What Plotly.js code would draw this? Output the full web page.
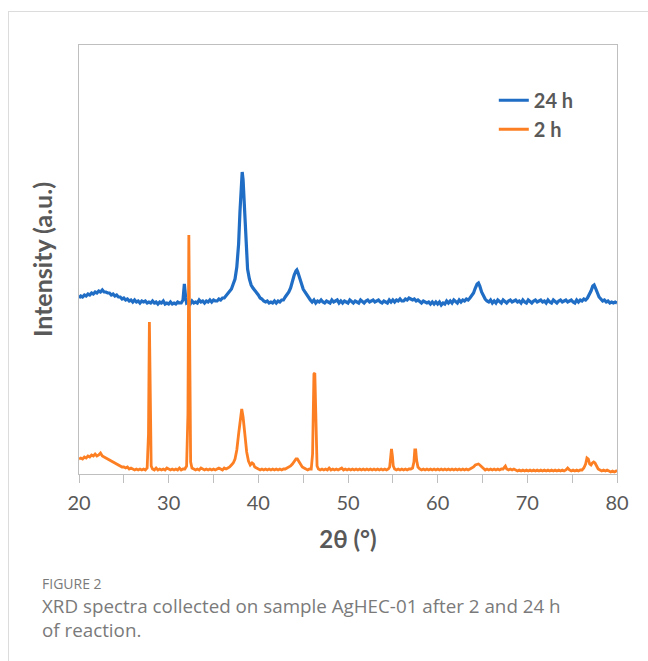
<!DOCTYPE html>
<html>
<head>
<meta charset="utf-8">
<script src="https://cdn.plot.ly/plotly-3.0.1.min.js"></script>
<style>
  html, body { margin: 0; padding: 0; background: #fff; }
  #frame { position: absolute; left: 8px; top: 11px; width: 640px; height: 650px;
           border-top: 1px solid #dcdcdc; border-left: 1px solid #dcdcdc; }
  #chart { position: absolute; left: 0; top: 0; width: 648px; height: 661px; }
</style>
</head>
<body>
<div id="frame"></div>
<div id="chart"></div>
<script>
// 24 h series (2θ in degrees, intensity in arbitrary units)
const x24 = [20.0,20.2,20.4,20.6,20.8,21.0,21.2,21.4,21.6,21.8,22.0,22.2,22.4,22.6,22.8,23.0,23.2,23.4,23.6,23.8,24.0,24.2,24.4,24.6,24.8,25.0,25.2,25.4,25.6,25.8,26.0,26.2,26.4,26.6,26.8,27.0,27.2,27.4,27.6,27.8,28.0,28.2,28.4,28.6,28.8,29.0,29.2,29.4,29.6,29.8,30.0,30.2,30.4,30.6,30.8,31.0,31.2,31.4,31.6,31.75,31.9,32.0,32.2,32.4,32.6,32.8,33.0,33.2,33.4,33.6,33.8,34.0,34.2,34.4,34.6,34.8,35.0,35.2,35.4,35.6,35.8,36.0,36.2,36.4,36.6,36.8,37.0,37.2,37.4,37.6,37.8,37.95,38.1,38.2,38.3,38.45,38.6,38.8,39.0,39.2,39.4,39.6,39.8,40.0,40.2,40.4,40.6,40.8,41.0,41.2,41.4,41.6,41.8,42.0,42.2,42.4,42.6,42.8,43.0,43.2,43.4,43.6,43.8,44.0,44.2,44.3,44.4,44.6,44.8,45.0,45.2,45.4,45.6,45.8,46.0,46.2,46.4,46.6,46.8,47.0,47.2,47.4,47.6,47.8,48.0,48.2,48.4,48.6,48.8,49.0,49.2,49.4,49.6,49.8,50.0,50.2,50.4,50.6,50.8,51.0,51.2,51.4,51.6,51.8,52.0,52.2,52.4,52.6,52.8,53.0,53.2,53.4,53.6,53.8,54.0,54.2,54.4,54.6,54.8,55.0,55.2,55.4,55.6,55.8,56.0,56.2,56.4,56.6,56.8,57.0,57.2,57.4,57.6,57.8,58.0,58.2,58.4,58.6,58.8,59.0,59.2,59.4,59.6,59.8,60.0,60.2,60.4,60.6,60.8,61.0,61.2,61.4,61.6,61.8,62.0,62.2,62.4,62.6,62.8,63.0,63.2,63.4,63.6,63.8,64.0,64.2,64.4,64.55,64.7,64.9,65.1,65.3,65.5,65.7,65.9,66.1,66.3,66.5,66.7,66.9,67.1,67.3,67.5,67.7,67.9,68.1,68.3,68.5,68.7,68.9,69.1,69.3,69.5,69.7,69.9,70.1,70.3,70.5,70.7,70.9,71.1,71.3,71.5,71.7,71.9,72.1,72.3,72.5,72.7,72.9,73.1,73.3,73.5,73.7,73.9,74.1,74.3,74.5,74.7,74.9,75.1,75.3,75.5,75.7,75.9,76.1,76.3,76.5,76.7,76.9,77.1,77.3,77.45,77.6,77.8,78.0,78.2,78.4,78.6,78.8,79.0,79.2,79.4,79.6,79.8,80.0];
const y24 = [
  176,178,177,179,178,180,179,181,180,182,
  181,183,182,184,182,182,181,181,179,180,
  178,179,177,177,175,176,174,175,173,174,
  172,174,172,173,171,173,172,173,171,172,
  171,173,171,172,170,172,171,173,170,171,
  170,172,170,171,170,172,171,171,174,
  190,176,
  171,172,170,173,171,172,171,174,172,173,
  171,173,172,174,172,174,173,173,175,174,
  176,176,178,180,182,185,190,195,207,230,
  262,292,302,294,262,230,
  205,195,189,186,184,181,179,176,175,173,
  172,173,171,172,171,173,171,173,172,174,
  174,177,179,182,186,193,199,203,
  204,202,
  196,189,185,182,179,177,174,172,174,171,
  173,172,174,172,171,173,172,171,174,172,
  173,174,171,173,171,173,172,171,174,172,
  171,173,172,171,174,172,171,173,174,172,
  173,174,172,173,174,172,171,173,172,171,
  174,172,174,172,174,173,175,173,173,175,
  174,176,175,174,175,173,174,172,171,173,
  172,171,172,170,172,170,172,170,172,169,
  171,170,173,171,173,171,174,172,171,174,
  172,174,173,175,174,176,178,181,186,190,
  191,188,
  182,178,175,173,172,174,171,173,171,174,
  172,171,174,172,171,173,174,172,173,174,
  172,173,171,174,172,171,174,172,171,173,
  174,172,173,174,172,173,171,174,172,171,
  174,172,171,173,174,172,173,174,172,173,
  174,172,171,174,172,174,173,175,174,176,
  179,183,188,
  189,
  186,181,177,175,173,174,172,173,171,172,171,172,171];

// 2 h series
const x2 = [20.0,20.2,20.4,20.6,20.8,21.0,21.2,21.4,21.6,21.8,22.0,22.2,22.4,22.6,22.8,23.0,23.2,23.4,23.6,23.8,24.0,24.2,24.4,24.6,24.8,25.0,25.2,25.4,25.6,25.8,26.0,26.2,26.4,26.6,26.8,27.0,27.2,27.4,27.6,27.75,27.85,27.95,28.05,28.2,28.4,28.6,28.8,29.0,29.2,29.4,29.6,29.8,30.0,30.2,30.4,30.6,30.8,31.0,31.2,31.4,31.6,31.8,32.0,32.15,32.25,32.35,32.45,32.6,32.8,33.0,33.2,33.4,33.6,33.8,34.0,34.2,34.4,34.6,34.8,35.0,35.2,35.4,35.6,35.8,36.0,36.2,36.4,36.6,36.8,37.0,37.2,37.4,37.6,37.8,38.0,38.15,38.3,38.5,38.7,38.9,39.1,39.3,39.45,39.6,39.8,40.0,40.2,40.4,40.6,40.8,41.0,41.2,41.4,41.6,41.8,42.0,42.2,42.4,42.6,42.8,43.0,43.2,43.4,43.6,43.8,44.0,44.2,44.35,44.5,44.7,44.9,45.1,45.3,45.5,45.7,45.9,46.05,46.2,46.3,46.4,46.55,46.7,46.9,47.1,47.3,47.5,47.7,47.9,48.1,48.3,48.5,48.7,48.9,49.1,49.3,49.5,49.7,49.9,50.1,50.3,50.5,50.7,50.9,51.1,51.3,51.5,51.7,51.9,52.1,52.3,52.5,52.7,52.9,53.1,53.3,53.5,53.7,53.9,54.1,54.3,54.5,54.65,54.75,54.85,54.95,55.05,55.2,55.4,55.6,55.8,56.0,56.2,56.4,56.6,56.8,57.0,57.2,57.35,57.45,57.55,57.65,57.8,58.0,58.2,58.4,58.6,58.8,59.0,59.2,59.4,59.6,59.8,60.0,60.2,60.4,60.6,60.8,61.0,61.2,61.4,61.6,61.8,62.0,62.2,62.4,62.6,62.8,63.0,63.2,63.4,63.6,63.8,64.0,64.2,64.4,64.55,64.7,64.9,65.1,65.3,65.5,65.7,65.9,66.1,66.3,66.5,66.7,66.9,67.1,67.3,67.45,67.55,67.7,67.9,68.1,68.3,68.5,68.7,68.9,69.1,69.3,69.5,69.7,69.9,70.1,70.3,70.5,70.7,70.9,71.1,71.3,71.5,71.7,71.9,72.1,72.3,72.5,72.7,72.9,73.1,73.3,73.5,73.7,73.9,74.1,74.3,74.5,74.7,74.9,75.1,75.3,75.5,75.7,75.9,76.1,76.3,76.5,76.65,76.8,76.95,77.1,77.25,77.4,77.55,77.7,77.9,78.1,78.3,78.5,78.7,78.9,79.1,79.3,79.5,79.7,79.9,80.0];
const y2 = [15,16,15,17,16,18,17,19,18,20,18,19,21,18,17,16,15,14,13,12,11,10,9,8,7,7,6,7,5,6,5,4,5,4,5,4,5,4,6,40,152,60,8,5,4,6,4,5,4,5,4,6,5,4,5,4,5,4,6,4,5,5,8,60,239,90,12,6,5,4,5,4,6,5,4,5,4,5,4,5,4,5,6,5,4,6,5,6,7,9,11,15,24,40,58,65,57,38,22,13,9,11,10,7,6,5,4,5,4,5,4,5,4,5,4,5,4,5,4,5,5,6,7,8,10,13,15,15,13,10,7,6,5,4,5,5,20,100,101,45,8,5,4,5,4,5,4,6,4,5,4,5,4,5,6,4,5,4,5,4,5,4,5,4,5,4,5,4,5,4,5,4,5,4,5,4,5,4,5,4,5,7,15,25,18,8,5,4,5,4,5,4,5,4,5,5,6,12,24,24,14,7,5,4,5,4,5,4,5,4,5,4,5,4,5,4,5,4,5,4,5,4,5,4,5,4,5,4,5,4,5,6,7,9,10,10,9,7,5,4,5,4,5,4,5,4,5,4,5,5,7,8,5,4,5,4,5,4,3,4,3,4,3,4,3,4,3,4,3,4,3,4,3,4,3,4,3,4,3,4,3,4,3,4,3,4,6,4,3,4,3,4,3,4,4,6,10,16,15,10,9,11,12,11,8,5,4,3,4,3,4,3,2,3,2,3,2];

const seriesNames = ["24 h", "2 h"];
const seriesColors = ["#1f6dc4", "#fd7f23"];
const xTicks = [20, 30, 40, 50, 60, 70, 80];

const textGray = "#595959";
const axisGray = "#bfbfbf";
const fontMain = "Lato, 'Open Sans', sans-serif";
const fontCaption = "'Open Sans', sans-serif";

const traces = [
  {x: x24, y: y24, name: seriesNames[0], type: "scatter", mode: "lines",
   line: {color: seriesColors[0], width: 3.2}},
  {x: x2, y: y2, name: seriesNames[1], type: "scatter", mode: "lines",
   line: {color: seriesColors[1], width: 2.8}}
];

const layout = {
  width: 648, height: 661,
  margin: {l: 79, r: 31, t: 45, b: 187},
  paper_bgcolor: "rgba(0,0,0,0)",
  plot_bgcolor: "#ffffff",
  showlegend: true,
  legend: {x: 0.771, y: 0.9167, xanchor: "left", yanchor: "top",
           bgcolor: "rgba(0,0,0,0)", tracegroupgap: 0,
           font: {family: fontMain, size: 20, color: textGray, weight: "bold"}},
  xaxis: {range: [20, 80], tickvals: xTicks, ticktext: xTicks.map(String),
          showgrid: false, zeroline: false,
          showline: true, linecolor: axisGray, linewidth: 1, mirror: true,
          ticks: "outside", ticklen: 8, tickcolor: axisGray, ticklabelstandoff: 3,
          minor: {dtick: 5, ticks: "outside", ticklen: 8, tickcolor: axisGray, showgrid: false},
          tickfont: {family: fontMain, size: 20, color: textGray},
          title: {text: "2θ (°)", standoff: 18,
                  font: {family: fontMain, size: 24, color: textGray, weight: "bold"}}},
  yaxis: {range: [0, 429], showticklabels: false, ticks: "", showgrid: false, zeroline: false,
          showline: true, linecolor: axisGray, linewidth: 1, mirror: true,
          title: {text: "Intensity (a.u.)", standoff: 18,
                  font: {family: fontMain, size: 25, color: textGray, weight: "bold"}}},
  annotations: [
    {text: "FIGURE 2", xref: "paper", yref: "paper", x: -0.0706, y: -0.2547,
     xanchor: "left", yanchor: "middle", showarrow: false, borderpad: 0,
     font: {family: fontCaption, size: 14, color: "#7a7a7a"}},
    {text: "XRD spectra collected on sample AgHEC-01 after 2 and 24 h<br>of reaction.",
     xref: "paper", yref: "paper", align: "left",
     x: -0.0706, y: -0.2755, xanchor: "left", yanchor: "top", showarrow: false, borderpad: 0,
     font: {family: fontCaption, size: 18.8, color: "#7a7a7a"}}
  ]
};

Plotly.newPlot("chart", traces, layout, {displayModeBar: false, staticPlot: true});
</script>
</body>
</html>
